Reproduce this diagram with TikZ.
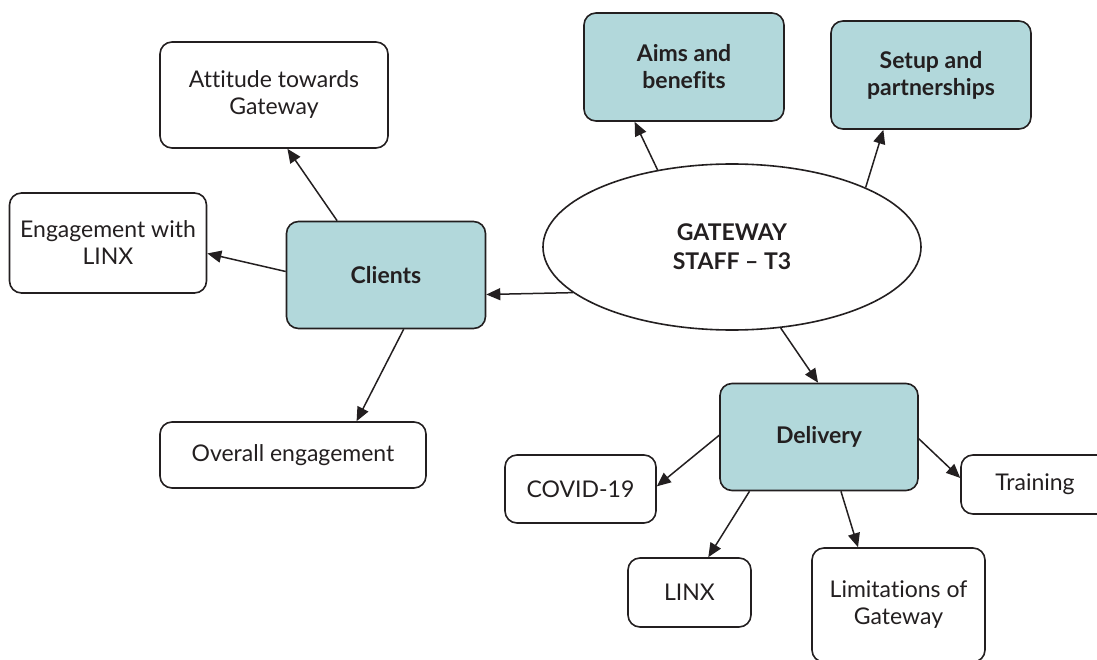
\documentclass[tikz,border=0pt]{standalone}
\usepackage{fontspec}
\setmainfont[Ligatures=NoCommon]{Lato}
\usetikzlibrary{arrows.meta,shapes.geometric}
\definecolor{teal}{HTML}{B2D8DB}
\definecolor{ink}{HTML}{231F20}
\tikzset{
  box/.style={draw=ink, line width=1.6pt, rounded corners=12pt, align=center,
    text=ink, inner sep=0pt, font=\fontsize{23}{27}\selectfont},
  topic/.style={box, fill=teal, font=\fontsize{23}{27}\selectfont\bfseries},
  leaf/.style={box, fill=white},
  link/.style={draw=ink, line width=1.5pt, -{Triangle[length=14pt,width=12pt]}},
}
\begin{document}
\begin{tikzpicture}[x=1pt,y=-1pt]
\useasboundingbox (0,0) rectangle (1097,660);
\begin{scope}
\clip (0,0) rectangle (1097,660);
% central topic
\node[ellipse, draw=ink, line width=1.6pt, fill=white, minimum width=378pt,
  minimum height=166pt, inner sep=0pt, align=center, text=ink,
  font=\fontsize{23}{29}\selectfont\bfseries] (ell) at (732,247) {GATEWAY\\STAFF -- T3};
% main themes
\node[topic, minimum width=200pt, minimum height=108pt] (aims) at (684,67) {Aims and\\benefits};
\node[topic, minimum width=200pt, minimum height=108pt] (setup) at (931,75) {Setup and\\partnerships};
\node[topic, minimum width=199pt, minimum height=107pt] (clients) at (386,275) {Clients};
\node[topic, minimum width=198pt, minimum height=107pt] (delivery) at (819,437) {Delivery};
% sub-themes
\node[leaf, minimum width=228pt, minimum height=106pt] (attitude) at (274,95) {Attitude towards\\Gateway};
\node[leaf, minimum width=197pt, minimum height=100pt] (engage) at (108,243) {Engagement with\\LINX};
\node[leaf, minimum width=266pt, minimum height=66pt] (overall) at (293,455) {Overall engagement};
\node[leaf, minimum width=151pt, minimum height=68pt] (covid) at (580.5,489) {COVID-19};
\node[leaf, minimum width=148pt, minimum height=59pt] (training) at (1035,484.5) {Training};
\node[leaf, minimum width=123pt, minimum height=69pt] (linx) at (689.5,592.5) {LINX};
\node[leaf, minimum width=173pt, minimum height=114pt] (limits) at (898.5,605) {Limitations of\\Gateway};
% connectors
\draw[link] (ell.134) -- (aims.228);
\draw[link] (ell.24.5) -- (setup.229);
\draw[link] (ell.196) -- (clients.-11.7);
\draw[link] (ell.-59.6) -- (delivery.91);
\draw[link] (clients.132.8) -- (attitude.284);
\draw[link] (clients.178.3) -- (engage.-6.2);
\draw[link] (clients.-72.2) -- (overall.28.7);
\draw[link] (delivery.179.4) -- (covid.2.2);
\draw[link] (delivery.-1.7) -- (training.175.4);
\draw[link] (delivery.218.9) -- (linx.62.2);
\draw[link] (delivery.-68.7) -- (limits.125.6);
\end{scope}
\end{tikzpicture}
\end{document}
